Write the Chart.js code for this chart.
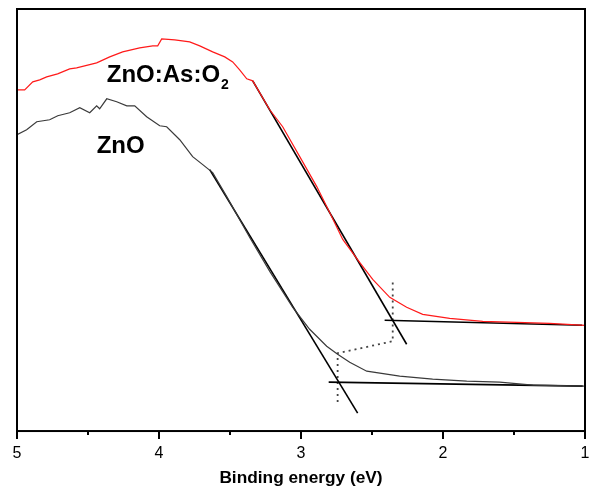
<!DOCTYPE html>
<html lang="en">
<head>
<meta charset="UTF-8">
<title>Valence band edge</title>
<script src="https://cdn.jsdelivr.net/npm/chart.js"></script>
<style>
    body { margin: 0; padding: 0; background: #fff; }
</style>
</head>
<body>
<canvas id="vbChart" width="591" height="492"></canvas>
<script>
// ZnO:As:O2 spectrum (binding energy in eV, intensity in a.u.)
const redEnergy = [5.0, 4.946, 4.889, 4.84, 4.791, 4.714, 4.629, 4.58, 4.439, 4.347, 4.256, 4.136, 4.044, 4.009, 3.981, 3.889, 3.784, 3.713, 3.622, 3.537, 3.481, 3.432, 3.382, 3.34, 3.22, 3.129, 3.009, 2.889, 2.798, 2.706, 2.587, 2.495, 2.375, 2.256, 2.143, 1.953, 1.72, 1.481, 1.249, 1.0];
const redIntensity = [342, 342, 350, 352, 355, 358, 363, 364, 369, 375, 380, 384, 386, 386, 393, 392, 390, 386, 380, 375, 370, 362, 353, 351, 322, 305, 275, 245, 219, 192, 169, 152, 134, 124, 117, 113, 110, 109, 108, 106];

// ZnO spectrum
const znoEnergy = [5.0, 4.932, 4.861, 4.77, 4.713, 4.629, 4.558, 4.488, 4.439, 4.418, 4.368, 4.298, 4.227, 4.171, 4.087, 3.995, 3.946, 3.854, 3.763, 3.692, 3.622, 3.523, 3.361, 3.22, 3.058, 2.939, 2.819, 2.742, 2.657, 2.537, 2.305, 2.073, 1.833, 1.601, 1.368, 1.0];
const znoIntensity = [297, 302, 310, 312, 316, 319, 324, 319, 326, 323, 333, 330, 326, 326, 315, 306, 305, 292, 275, 267, 259, 235, 194, 160, 124, 102, 85, 77, 69, 60, 55, 52, 50, 49, 46, 45];

// linear fits (edge tangent and background)
const redTangentEnergy = [3.34, 2.256];
const redTangentIntensity = [351, 87];
const redBaseEnergy = [2.411, 1.02];
const redBaseIntensity = [111, 106];
const znoTangentEnergy = [3.643, 2.601];
const znoTangentIntensity = [262, 18];
const znoBaseEnergy = [2.805, 1.016];
const znoBaseIntensity = [49, 45];

// dotted guide between the two onsets
const guideEnergy = [2.354, 2.354, 2.742, 2.742];
const guideIntensity = [149, 90, 78, 29];

const xTicks = [5, 4, 3, 2, 1];
const xMinorTicks = [4.5, 3.5, 2.5, 1.5];

const pts = (xs, ys) => xs.map((x, i) => ({ x: x, y: ys[i] }));

// frame, tick marks and curve labels
const decorations = {
    id: 'decorations',
    afterDraw(chart) {
        const c = chart.ctx;
        const a = chart.chartArea;
        const xs = chart.scales.x;
        const ys = chart.scales.y;
        c.save();
        c.strokeStyle = '#000';
        c.lineWidth = 2;
        c.strokeRect(a.left, a.top, a.right - a.left, a.bottom - a.top);
        c.beginPath();
        xTicks.forEach(v => {
            const px = Math.round(xs.getPixelForValue(v));
            c.moveTo(px, a.bottom);
            c.lineTo(px, a.bottom + 8);
        });
        xMinorTicks.forEach(v => {
            const px = Math.round(xs.getPixelForValue(v));
            c.moveTo(px, a.bottom);
            c.lineTo(px, a.bottom + 4);
        });
        c.stroke();

        c.fillStyle = '#000';
        c.textBaseline = 'alphabetic';
        c.textAlign = 'left';
        c.font = 'bold 24px "Liberation Sans", Arial, sans-serif';
        let lx = xs.getPixelForValue(4.368);
        let ly = ys.getPixelForValue(350);
        c.fillText('ZnO:As:O', lx, ly);
        const w = c.measureText('ZnO:As:O').width;
        c.font = 'bold 14px "Liberation Sans", Arial, sans-serif';
        c.fillText('2', lx + w + 1, ly + 7);
        c.font = 'bold 24px "Liberation Sans", Arial, sans-serif';
        c.fillText('ZnO', xs.getPixelForValue(4.439), ys.getPixelForValue(279));
        c.restore();
    }
};

const ctx = document.getElementById('vbChart').getContext('2d');
new Chart(ctx, {
    type: 'line',
    data: {
        datasets: [
            { label: 'ZnO:As:O2', data: pts(redEnergy, redIntensity), borderColor: '#ff1a1a', borderWidth: 1.2 },
            { label: 'ZnO', data: pts(znoEnergy, znoIntensity), borderColor: '#3a3a3a', borderWidth: 1.2 },
            { label: 'fit1', data: pts(redTangentEnergy, redTangentIntensity), borderColor: '#000', borderWidth: 1.6 },
            { label: 'fit2', data: pts(redBaseEnergy, redBaseIntensity), borderColor: '#000', borderWidth: 1.6 },
            { label: 'fit3', data: pts(znoTangentEnergy, znoTangentIntensity), borderColor: '#000', borderWidth: 1.6 },
            { label: 'fit4', data: pts(znoBaseEnergy, znoBaseIntensity), borderColor: '#000', borderWidth: 1.6 },
            { label: 'guide', data: pts(guideEnergy, guideIntensity), borderColor: '#444', borderWidth: 1.8, borderDash: [2, 4] }
        ]
    },
    options: {
        responsive: false,
        animation: false,
        devicePixelRatio: 1,
        layout: { padding: { left: 17, right: 6, top: 9, bottom: 3 } },
        elements: { point: { radius: 0 }, line: { tension: 0, fill: false } },
        plugins: { legend: { display: false }, tooltip: { enabled: false } },
        scales: {
            x: {
                type: 'linear',
                min: 1,
                max: 5,
                reverse: true,
                // tick marks are drawn by the plugin; the grid only reserves room for them
                grid: { display: true, drawOnChartArea: false, drawTicks: true, tickLength: 12, color: 'rgba(0,0,0,0)' },
                border: { display: false },
                ticks: {
                    stepSize: 1,
                    padding: 1,
                    color: '#000',
                    font: { family: '"Liberation Sans", Arial, sans-serif', size: 16 }
                },
                title: {
                    display: true,
                    text: 'Binding energy (eV)',
                    color: '#000',
                    padding: { top: 4, bottom: 0 },
                    font: { family: '"Liberation Sans", Arial, sans-serif', size: 17.3, weight: 'bold' }
                }
            },
            y: {
                display: false,
                min: 0,
                max: 423
            }
        }
    },
    plugins: [decorations]
});
</script>
</body>
</html>
